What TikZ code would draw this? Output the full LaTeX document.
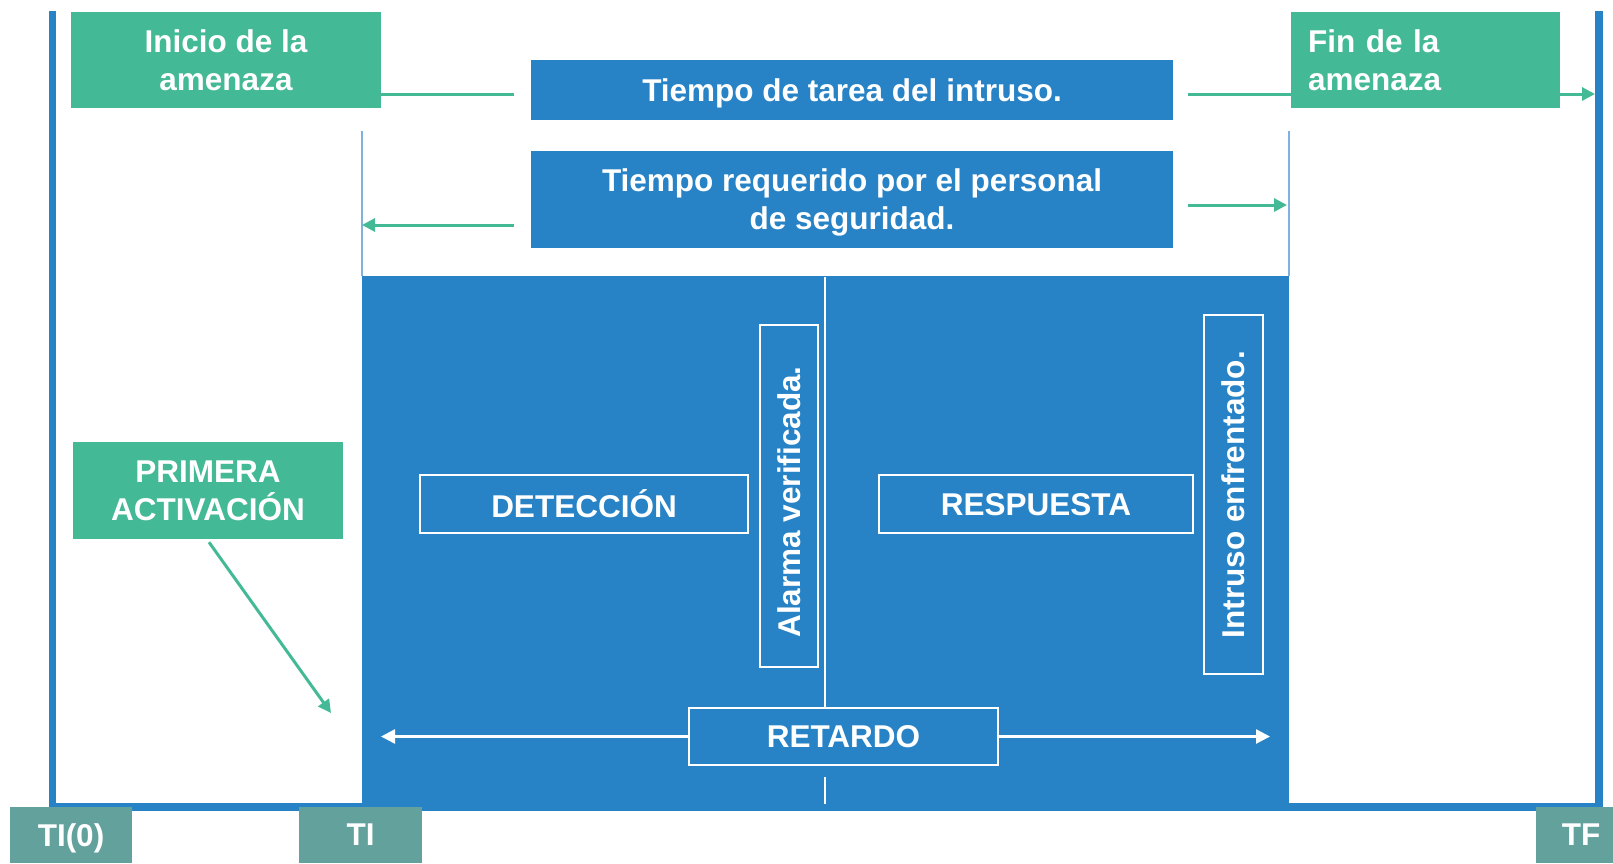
\documentclass[tikz,border=0pt]{standalone}
\usepackage{fontspec}
\setmainfont{Liberation Sans}
\usetikzlibrary{arrows.meta}
\definecolor{grn}{HTML}{43B995}
\definecolor{blu}{HTML}{2883C6}
\definecolor{tgr}{HTML}{63A19D}
\definecolor{lbl}{HTML}{7FB2DE}
\begin{document}
\begin{tikzpicture}[x=1pt,y=-1pt,
  txtbase/.style={text=white,font=\fontsize{31.5}{38}\selectfont\bfseries},
  txt/.style={txtbase,text depth=0pt},
  gbox/.style={txt,fill=grn,inner sep=0pt,align=center},
  finbox/.style={txtbase,fill=grn,inner sep=0pt},
  bbox/.style={txt,fill=blu,inner sep=0pt,align=center},
  wbox/.style={txt,draw=white,line width=2pt,inner sep=0pt,align=center},
  tbox/.style={txt,fill=tgr,inner sep=0pt},
  gline/.style={draw=grn,line width=3pt},
  garrow/.style={gline,-{Triangle[length=13pt,width=13pt]}},
  warrow/.style={draw=white,line width=2.5pt,-{Triangle[length=14pt,width=14pt]}},
  thinline/.style={draw=lbl,line width=2pt},
]
\useasboundingbox (0,0) rectangle (1613,863);

% main blue block
\fill[blu] (362,276) rectangle (1289,807);

% frame
\draw[blu,line width=7.5pt] (52.5,11) -- (52.5,807) -- (1599,807) -- (1599,11);

% thin vertical lines
\coordinate (tl1) at (362,131);
\coordinate (tl2) at (1289,131);
\draw[thinline] (tl1) -- (362,276);
\draw[thinline] (tl2) -- (1289,276);

% top boxes
\node[gbox,minimum width=310pt,minimum height=96pt] (ini) at (226,60) {Inicio de la\\amenaza};
\node[finbox,minimum width=269pt,minimum height=96pt,text width=235pt,inner xsep=17pt,align=left] (fin) at (1425.5,60) {Fin de la\\amenaza};
\node[bbox,minimum width=642pt,minimum height=60pt] (tarea) at (852,90) {Tiempo de tarea del intruso.};
\node[bbox,minimum width=642pt,minimum height=97pt] (req) at (852,199.5) {Tiempo requerido por el personal\\de seguridad.};

% green connectors, top row
\coordinate (a1) at (514,94);
\coordinate (a2) at (1188,94);
\coordinate (rb) at (1595,94);
\draw[gline] (ini.east |- a1) -- (a1);
\draw[gline] (a2) -- (fin.west |- a2);
\draw[garrow] (fin.east |- a2) -- (rb);

% green arrows, second row
\coordinate (b1) at (514,225);
\coordinate (b2) at (1188,205);
\draw[garrow] (b1) -- (tl1 |- b1);
\draw[garrow] (b2) -- (1287,205);

% inner boxes
\node[wbox,minimum width=328pt,minimum height=58pt] (det) at (584,504) {DETECCIÓN};
\node[wbox,minimum width=314pt,minimum height=58pt] (resp) at (1036,504) {RESPUESTA};
\node[wbox,rotate=90,minimum width=342pt,minimum height=58pt] (alarma) at (789,496) {Alarma verificada.\hspace{12pt}};
\node[wbox,rotate=90,minimum width=359pt,minimum height=59pt] (intr) at (1233.5,494.5) {Intruso enfrentado.};
\node[wbox,minimum width=309pt,minimum height=57pt] (ret) at (843.5,736.5) {RETARDO};

% centre line
\coordinate (ctop) at (825,277);
\coordinate (cbot) at (825,804);
\draw[white,line width=2pt] (ctop) -- (ctop |- ret.north);
\draw[white,line width=2pt] (825,777) -- (cbot);

% retardo arrows
\coordinate (rl) at (381,736.5);
\coordinate (rr) at (1270,736.5);
\draw[warrow] (ret.west) -- (rl);
\draw[warrow] (ret.east) -- (rr);

% primera activacion
\node[gbox,minimum width=270pt,minimum height=97pt] (prim) at (208,490.5) {PRIMERA\\ACTIVACIÓN};
\coordinate (pend) at (331,713);
\draw[garrow] ([xshift=1pt,yshift=-3pt]prim.south) -- (pend);

% time labels
\node[tbox,minimum width=122pt,minimum height=56pt] (ti0) at (71,835) {TI(0)};
\node[tbox,minimum width=123pt,minimum height=56pt] (ti) at (360.5,835) {TI};
\node[tbox,minimum width=90pt,minimum height=56pt,anchor=west] (tf) at (1536,835) {TF};
\end{tikzpicture}
\end{document}
